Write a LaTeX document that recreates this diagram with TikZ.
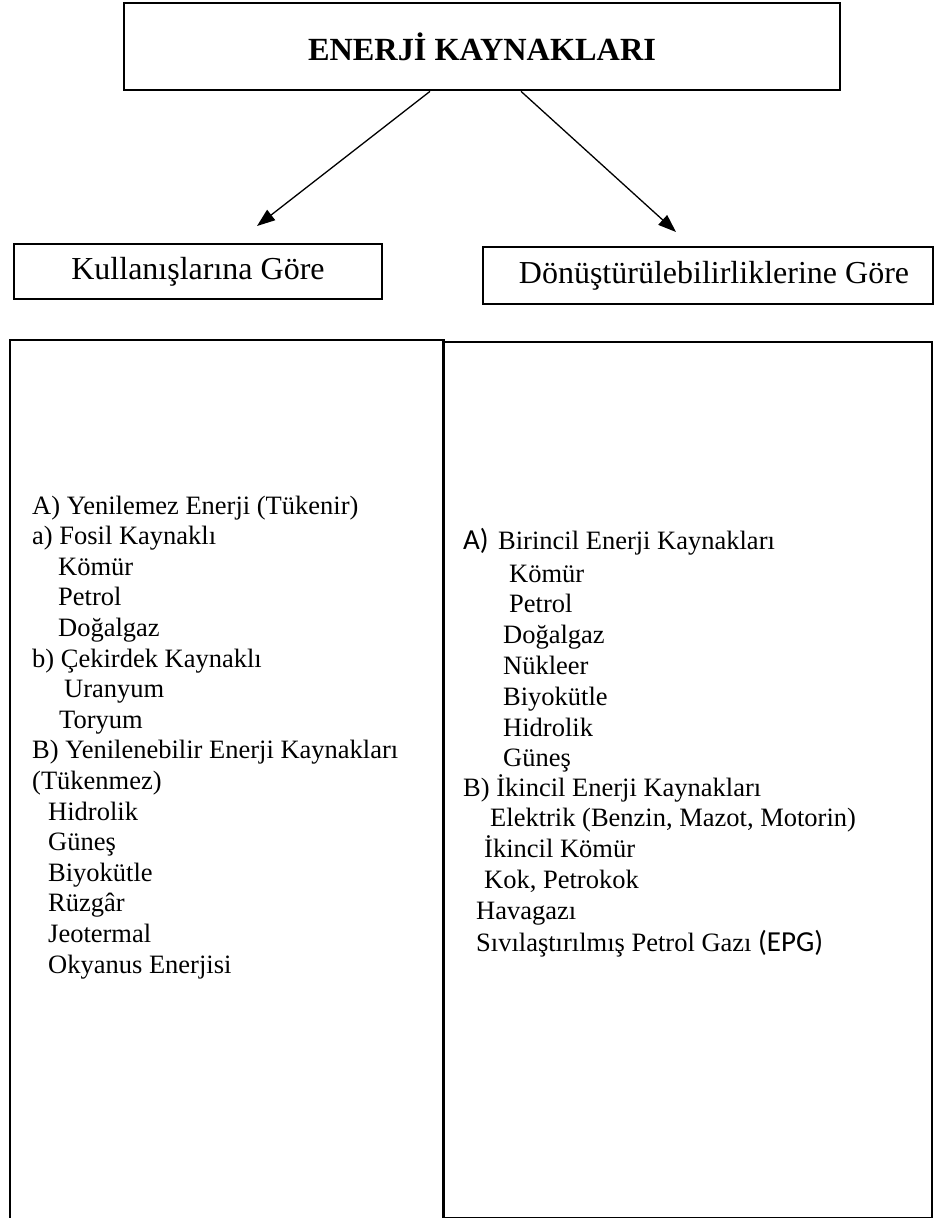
\documentclass[tikz,border=0pt]{standalone}
\usepackage{fontspec}
\setmainfont{Liberation Serif}
\newfontfamily\carlito{Carlito}
\usetikzlibrary{arrows.meta}
\begin{document}
\begin{tikzpicture}[x=1pt,y=-1pt]
\tikzset{
  boxnode/.style={draw=black, line width=2.7pt, rectangle, inner sep=0pt},
  bigbox/.style={draw=black, line width=2.3pt, rectangle, inner sep=0pt, anchor=north west},
  subtext/.style={font=\fontsize{32}{36}\selectfont},
  ln/.style={anchor=base west, inner sep=0pt, font=\fontsize{26.5}{30}\selectfont},
  sanspart/.style={anchor=base west, inner sep=0pt, font=\carlito\fontsize{29}{30}\selectfont},
  arr/.style={line width=1.3pt, -{Triangle[length=18pt,width=13pt]}}
}
\useasboundingbox[fill=white] (0,0) rectangle (946,1218);

% top box
\node[boxnode, minimum width=716, minimum height=87,
      font=\fontsize{32.3}{36}\selectfont\bfseries] (top) at (482,46.5) {ENERJİ KAYNAKLARI};

% sub boxes
\node[boxnode, line width=2.5pt, minimum width=368, minimum height=55, subtext] (kul) at (198,271.5) {Kullanışlarına Göre};
\node[boxnode, line width=2.5pt, minimum width=450, minimum height=57, subtext] (don) at (708,275.5) {\hspace*{12pt}Dönüştürülebilirliklerine Göre};

% big boxes
\node[bigbox, minimum width=434, minimum height=900] (leftbox) at (9,339) {};
\node[bigbox, minimum width=489, minimum height=876] (rightbox) at (442,341) {};

% arrows
\coordinate (tipL) at (257,226);
\coordinate (tipR) at (676,232);
\draw[arr] ([xshift=-52pt]top.south) -- (tipL);
\draw[arr] ([xshift=39pt]top.south) -- (tipR);

% left column
\node[ln] (l1) at (32,514) {A) Yenilemez Enerji (Tükenir)};
\node[ln] (l2) at (32,544.6) {a) Fosil Kaynaklı};
\node[ln] (l3) at (58,575.2) {Kömür};
\node[ln] (l4) at (58,605.8) {Petrol};
\node[ln] (l5) at (58,636.4) {Doğalgaz};
\node[ln] (l6) at (32,667) {b) Çekirdek Kaynaklı};
\node[ln] (l7) at (64,697.6) {Uranyum};
\node[ln] (l8) at (59,728.2) {Toryum};
\node[ln] (l9) at (32,758.8) {B) Yenilenebilir Enerji Kaynakları};
\node[ln] (l10) at (32,789.4) {(Tükenmez)};
\node[ln] (l11) at (48,820) {Hidrolik};
\node[ln] (l12) at (48,850.6) {Güneş};
\node[ln] (l13) at (48,881.2) {Biyokütle};
\node[ln] (l14) at (48,911.8) {Rüzgâr};
\node[ln] (l15) at (48,942.4) {Jeotermal};
\node[ln] (l16) at (48,973) {Okyanus Enerjisi};

% right column
\node[sanspart] (r1a) at (463,549) {A)};
\node[ln] (r1) at (498,549) {Birincil Enerji Kaynakları};
\node[ln] (r2) at (509,582) {Kömür};
\node[ln] (r3) at (509,612) {Petrol};
\node[ln] (r4) at (503,643) {Doğalgaz};
\node[ln] (r5) at (503,674) {Nükleer};
\node[ln] (r6) at (503,705) {Biyokütle};
\node[ln] (r7) at (503,736) {Hidrolik};
\node[ln] (r8) at (503,766) {Güneş};
\node[ln] (r9) at (463,796) {B) İkincil Enerji Kaynakları};
\node[ln] (r10) at (490,826) {Elektrik (Benzin, Mazot, Motorin)};
\node[ln] (r11) at (484,857) {İkincil Kömür};
\node[ln] (r12) at (484,888) {Kok, Petrokok};
\node[ln] (r13) at (476,919) {Havagazı};
\node[ln] (r14) at (476,951) {Sıvılaştırılmış Petrol Gazı {\carlito\fontsize{29}{30}\selectfont (EPG)}};
\end{tikzpicture}
\end{document}
